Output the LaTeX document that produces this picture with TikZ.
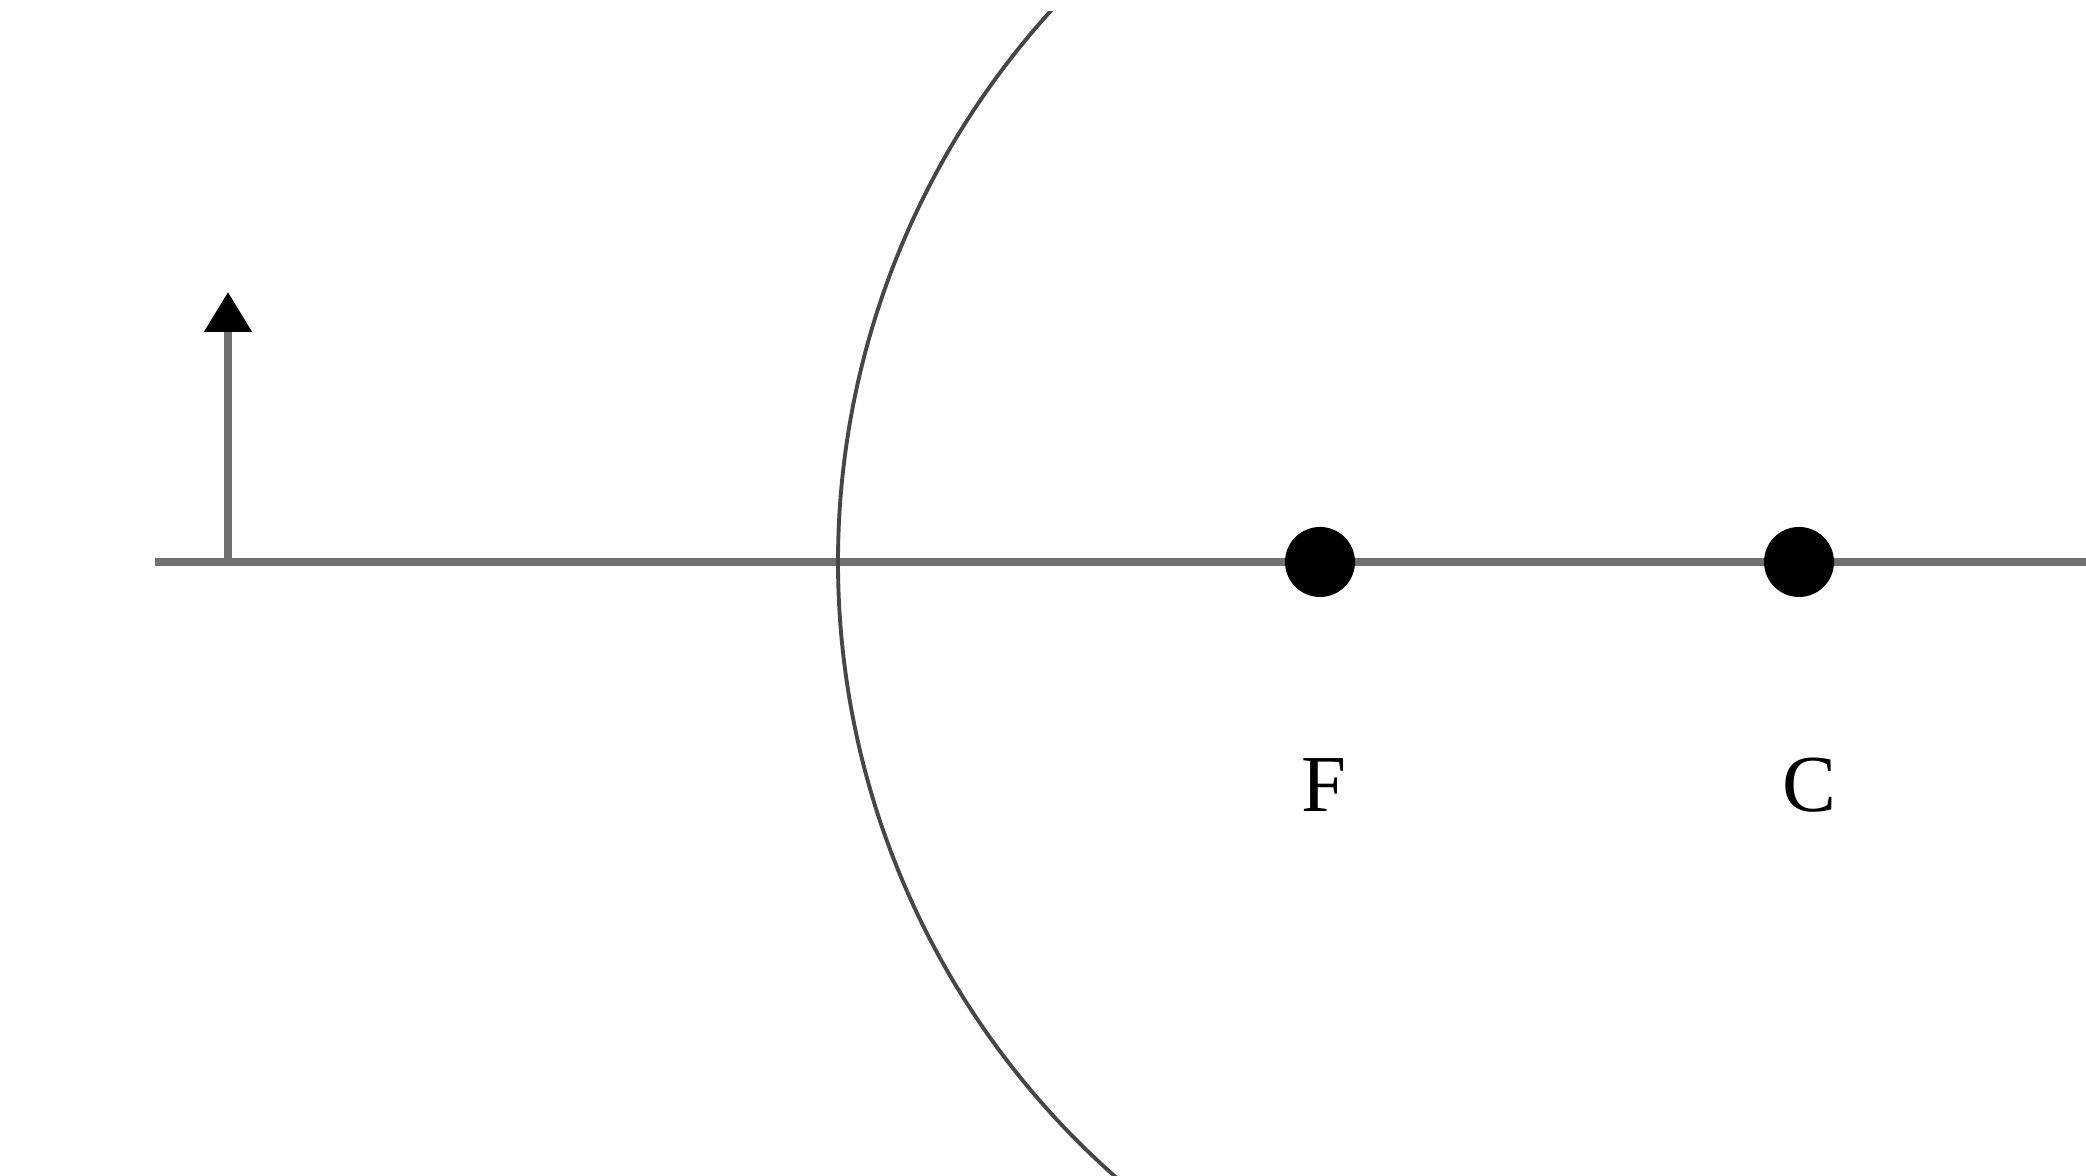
\documentclass[tikz,border=0pt]{standalone}
\usepackage{fontspec}
\setmainfont{Liberation Serif}
\usetikzlibrary{arrows.meta,positioning}
\definecolor{axisgray}{RGB}{112,112,112}
\definecolor{mirrorgray}{RGB}{70,70,70}
\tikzset{axisline/.style={draw=axisgray,line width=2.3pt},
  mirror/.style={draw=mirrorgray,line width=1.1pt},
  focdot/.style={circle,fill=black,inner sep=0pt,minimum size=0.7cm},
  ptlabel/.style={font=\fontsize{23}{27}\selectfont},
  objarr/.style={draw=axisgray,line width=2.3pt,-{Triangle[length=4mm,width=4.6mm,color=black]}}}

\begin{document}
\begin{tikzpicture}
\useasboundingbox (0,0) rectangle (20.86,11.76);
\fill[white] (0,0) rectangle (20.86,11.76);
% principal axis
\coordinate (axL) at (1.55,6.14);
\coordinate (axR) at (20.86,6.14);
\draw[axisline] (axL)--(axR);
% mirror
\begin{scope}
 \clip (0,0) rectangle (20.86,11.64);
 \draw[mirror] (8.38,6.14) arc[start angle=180,end angle=130,radius=8.2];
 \draw[mirror] (8.38,6.14) arc[start angle=180,end angle=235,radius=8.2];
\end{scope}
% object
\coordinate (obj) at (2.28,6.14);
\coordinate (objtip) at (2.28,8.84);
\draw[objarr] (obj)--(objtip);
% focal point and centre
\node[focdot] (F) at (13.20,6.14) {};
\node[focdot] (C) at (17.99,6.14) {};
\node[ptlabel] (Flab) at (13.24,3.91) {F};
\node[ptlabel] (Clab) at (18.09,3.91) {C};
\end{tikzpicture}
\end{document}
